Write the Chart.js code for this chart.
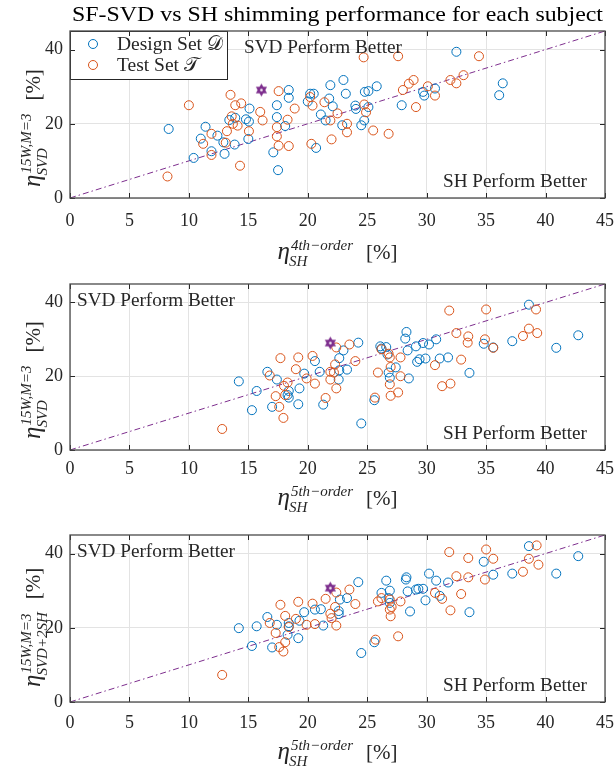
<!DOCTYPE html>
<html>
<head>
<meta charset="utf-8">
<script src="https://cdn.jsdelivr.net/npm/chart.js@4/dist/chart.umd.min.js"></script>
<style>
  body { margin: 0; background: #fff; width: 616px; height: 770px; position: relative; overflow: hidden; }
  canvas { position: absolute; left: 0; }
</style>
</head>
<body>
<canvas id="plot-4th" width="616" height="275" style="top:0"></canvas>
<canvas id="plot-5th" width="616" height="270" style="top:255px"></canvas>
<canvas id="plot-5th-2sh" width="616" height="260" style="top:510px"></canvas>
<script>
const SERIF = '"Liberation Serif", "Times New Roman", serif';
const BLUE = "#0072BD";
const ORANGE = "#D95319";
const PURPLE = "#7E2F8E";
const INK = "#262626";

// ===== DATA =====
const title = "SF-SVD vs SH shimming performance for each subject";
const legend_labels = ["Design Set \u{1D49F}", "Test Set \u{1D4AF}"];
const x_ticks = [0, 5, 10, 15, 20, 25, 30, 35, 40, 45];
const y_ticks = [0, 20, 40];
const diagonal = [[0, 0], [45, 45]];

// SVD (15W, M=3) vs 4th-order SH
const design_4th = [
  [8.3,18.6],[11.4,19.2],[11.0,16.0],[12.4,16.8],[10.4,10.8],[11.9,12.6],[13.0,11.9],[12.9,15.0],
  [13.4,21.0],[13.9,21.6],[13.85,14.4],[14.8,21.2],[15.05,20.6],[15.0,15.9],[15.1,24.1],[17.1,12.3],
  [17.4,25.0],[17.4,21.8],[17.5,7.5],[18.1,19.4],[18.4,29.1],[18.4,27.0],[20.0,26.0],[20.2,28.1],
  [20.5,28.1],[21.1,22.5],[20.7,13.5],[21.9,30.4],[21.8,26.8],[22.1,24.7],[21.5,20.9],[23.0,31.8],
  [23.2,28.1],[22.9,19.6],[24.0,24.9],[24.05,24.0],[24.5,19.6],[24.75,20.9],[24.8,28.6],[25.1,28.8],
  [25.1,24.5],[25.8,30.1],[27.9,25.0],[29.7,28.6],[29.8,27.6],[30.7,29.5],[32.5,39.4],[36.1,27.7],
  [36.4,30.9]
];
const test_4th = [
  [8.2,5.8],[10.0,25.0],[11.2,14.6],[11.9,17.3],[11.9,11.6],[13.2,18.0],[13.1,14.9],[13.5,27.8],
  [13.6,22.0],[13.7,20.0],[13.9,25.0],[14.1,19.5],[14.4,25.5],[14.3,8.7],[15.05,18.0],[16.0,23.2],
  [16.2,20.9],[17.4,19.1],[17.4,16.6],[17.55,28.8],[17.55,14.1],[18.3,21.1],[18.4,14.0],[18.9,24.1],
  [20.2,27.2],[20.4,24.9],[20.3,14.6],[21.4,25.8],[22.0,15.8],[21.9,20.9],[22.5,22.8],[23.3,20.0],
  [23.3,17.7],[24.7,37.9],[24.75,25.2],[24.9,23.1],[25.5,18.2],[26.8,17.3],[27.6,38.2],[28.0,29.1],
  [28.5,30.8],[28.9,31.8],[29.1,24.5],[30.1,30.1],[30.7,27.6],[32.0,31.8],[32.5,30.9],[33.1,33.1],
  [34.4,38.2]
];
const best_4th = [[16.1, 29.1]];

// SVD (15W, M=3) vs 5th-order SH
const design_5th = [
  [14.2,18.6],[15.7,16.0],[15.3,10.8],[16.6,21.2],[17.0,11.7],[17.4,19.1],[18.4,16.0],[18.3,14.9],
  [18.4,14.2],[19.3,16.7],[19.2,12.4],[19.7,20.7],[20.6,24.1],[21.0,21.2],[21.3,12.3],[22.65,24.9],
  [22.6,19.1],[23.0,27.0],[22.65,21.6],[23.3,21.8],[24.25,29.1],[24.5,7.2],[25.6,13.5],[26.1,28.1],
  [26.2,27.5],[26.6,27.9],[26.7,25.9],[26.8,21.0],[26.9,19.6],[27.4,22.4],[28.3,32.0],[28.2,30.2],
  [28.4,27.0],[28.5,19.4],[29.1,28.1],[29.2,23.9],[29.4,24.6],[29.7,29.0],[29.9,24.8],[30.2,28.6],
  [30.8,30.0],[31.1,24.8],[31.8,25.1],[33.6,20.9],[34.8,28.8],[35.6,27.8],[37.2,29.5],[38.6,39.4],
  [40.9,27.7],[42.75,31.1]
];
const test_5th = [
  [12.8,5.7],[17.7,24.9],[19.2,25.1],[16.8,20.2],[17.3,14.6],[17.6,11.7],[17.95,8.7],[18.0,17.4],
  [18.3,18.3],[18.1,14.9],[19.0,21.9],[19.9,19.4],[20.4,25.5],[20.6,18.0],[21.5,14.1],[21.9,21.2],
  [21.9,19.1],[22.3,23.2],[22.4,16.7],[22.4,27.8],[22.2,21.0],[23.5,28.6],[24.0,24.1],[25.9,21.0],
  [25.65,14.2],[26.2,27.3],[26.8,26.1],[26.9,25.1],[26.97,22.5],[26.9,17.8],[26.97,14.7],[27.6,15.6],
  [27.8,20.0],[27.8,25.1],[30.7,23.0],[31.3,17.3],[32.0,18.0],[31.9,37.8],[32.5,31.7],[32.9,24.5],
  [33.5,30.8],[33.45,29.1],[34.9,30.0],[35.0,38.1],[35.6,27.7],[38.1,30.9],[38.6,32.9],[39.3,31.7],
  [39.2,38.1]
];
const best_5th = [[21.9, 29.0]];

// SVD+2SH (15W, M=3) vs 5th-order SH
const design_2sh = [
  [14.2,19.9],[15.7,20.4],[15.3,15.1],[16.6,22.9],[17.0,14.7],[17.4,20.8],[18.4,20.4],[18.3,18.1],
  [18.4,21.3],[19.3,21.9],[19.2,17.2],[19.7,24.2],[20.6,24.9],[21.1,25.0],[21.3,20.6],[22.7,27.6],
  [23.3,28.0],[22.6,24.5],[22.6,23.7],[24.25,32.3],[24.5,13.2],[25.6,16.1],[26.2,29.4],[26.6,32.7],
  [26.9,30.0],[26.8,28.0],[26.9,26.7],[28.3,33.6],[28.25,33.0],[28.4,29.8],[28.6,24.4],[29.1,30.3],
  [29.3,30.5],[29.7,30.5],[29.9,27.4],[30.2,34.6],[30.8,32.7],[31.1,28.6],[31.8,32.2],[33.6,24.2],
  [34.8,37.8],[35.6,34.3],[37.2,34.6],[38.6,42.0],[40.9,34.6],[42.75,39.3]
];
const test_2sh = [
  [12.8,7.3],[17.7,26.2],[19.2,27.0],[16.8,21.3],[17.3,18.6],[17.6,14.8],[17.95,13.6],[18.1,16.1],
  [18.1,23.2],[18.4,20.2],[19.0,22.4],[19.9,20.8],[20.4,26.5],[20.6,21.0],[21.5,27.8],[21.9,23.8],
  [22.0,22.6],[22.3,25.6],[22.4,20.6],[22.4,29.5],[23.5,30.3],[24.0,26.4],[25.9,27.1],[25.7,16.8],
  [26.2,28.0],[26.9,27.6],[27.05,25.6],[26.9,24.9],[26.97,23.1],[27.6,17.7],[27.8,27.1],[30.7,29.4],
  [31.3,27.8],[32.0,24.7],[31.9,40.4],[32.5,33.9],[32.9,29.1],[33.5,38.8],[33.5,33.6],[35.0,41.1],
  [34.9,33.0],[35.6,38.6],[38.1,35.1],[38.6,38.6],[39.4,37.0],[39.25,42.2]
];
const best_2sh = [[21.9, 30.7]];

// ===== HELPERS =====
const pts = arr => arr.map(([x, y]) => ({ x, y }));

// Filled six-pointed star (MATLAB 'hexagram') with a small hole in the middle
function hexagram(r, colour) {
  const c = document.createElement("canvas");
  const s = Math.ceil(2 * r + 2);
  c.width = c.height = s;
  const g = c.getContext("2d");
  g.fillStyle = colour;
  [-Math.PI / 2, Math.PI / 2].forEach(a0 => {
    g.beginPath();
    for (let k = 0; k < 3; k++) {
      const a = a0 + k * 2 * Math.PI / 3;
      g.lineTo(s / 2 + r * Math.cos(a), s / 2 + r * Math.sin(a));
    }
    g.closePath();
    g.fill();
  });
  g.fillStyle = "#fff";
  g.beginPath();
  g.arc(s / 2, s / 2, r * 0.2, 0, 2 * Math.PI);
  g.fill();
  return c;
}
const star_marker = hexagram(6.5, PURPLE);

// text stretched to a target width (LaTeX fonts are wider than Times)
function fitText(ctx, text, x, y, w, font) {
  ctx.font = font;
  const s = w / ctx.measureText(text).width;
  ctx.save();
  ctx.translate(x, y);
  ctx.scale(s, 1);
  ctx.textAlign = "left";
  ctx.fillText(text, 0, 0);
  ctx.restore();
}

// eta with super- and subscript followed by [%], drawn from (0, 0) along +x
function mathLabel(ctx, sup, sub) {
  ctx.textBaseline = "alphabetic";
  ctx.textAlign = "left";
  ctx.font = "italic 25px " + SERIF;
  const w_eta = ctx.measureText("\u03B7").width;
  ctx.fillText("\u03B7", 0, 0);
  ctx.font = "italic 15px " + SERIF;
  const w_sup = ctx.measureText(sup).width;
  const w_sub = ctx.measureText(sub).width;
  ctx.fillText(sup, w_eta + 1, -9);
  ctx.fillText(sub, w_eta - 1, 7);
  ctx.font = "21px " + SERIF;
  ctx.fillText("[%]", w_eta + Math.max(w_sup + 1, w_sub - 1) + 13, 0);
}
function mathWidth(ctx, sup, sub) {
  ctx.font = "italic 25px " + SERIF;
  const w_eta = ctx.measureText("\u03B7").width;
  ctx.font = "italic 15px " + SERIF;
  const w = Math.max(ctx.measureText(sup).width + 1, ctx.measureText(sub).width - 1);
  ctx.font = "21px " + SERIF;
  return w_eta + w + 13 + ctx.measureText("[%]").width;
}

// ===== CHARTS =====
function createPlot(cfg) {
  const decor = {
    id: "decor",
    afterDraw(chart) {
      const ctx = chart.ctx;
      const a = chart.chartArea;
      const xs = chart.scales.x;
      const ys = chart.scales.y;
      ctx.save();
      ctx.fillStyle = INK;
      ctx.textBaseline = "alphabetic";

      // region annotations
      fitText(ctx, "SVD Perform Better", a.left + cfg.svd_dx, a.top + 22, 158, "19px " + SERIF);
      fitText(ctx, "SH Perform Better", a.right - 162, a.bottom - 11, 144, "19px " + SERIF);

      // legend (first panel only)
      if (cfg.legend) {
        ctx.fillStyle = "#fff";
        ctx.fillRect(a.left, a.top, 157, 48);
        ctx.strokeStyle = INK;
        ctx.lineWidth = 1;
        ctx.strokeRect(a.left + 0.5, a.top + 0.5, 157, 48);
        [BLUE, ORANGE].forEach((col, i) => {
          const yy = a.top + 13 + i * 21;
          ctx.strokeStyle = col;
          ctx.beginPath();
          ctx.arc(a.left + 23, yy, 4.5, 0, 2 * Math.PI);
          ctx.stroke();
          ctx.fillStyle = INK;
          ctx.font = "19.5px " + SERIF;
          ctx.textAlign = "left";
          ctx.fillText(legend_labels[i], a.left + 47, yy + 6);
        });
      }

      // box and inward ticks
      ctx.strokeStyle = INK;
      ctx.lineWidth = 1;
      ctx.beginPath();
      x_ticks.forEach(v => {
        const p = Math.round(xs.getPixelForValue(v)) + 0.5;
        ctx.moveTo(p, a.bottom); ctx.lineTo(p, a.bottom - 5);
        ctx.moveTo(p, a.top); ctx.lineTo(p, a.top + 5);
      });
      y_ticks.forEach(v => {
        const p = Math.round(ys.getPixelForValue(v)) + 0.5;
        ctx.moveTo(a.left, p); ctx.lineTo(a.left + 5, p);
        ctx.moveTo(a.right, p); ctx.lineTo(a.right - 5, p);
      });
      ctx.stroke();
      ctx.strokeStyle = "#4a4a4a";
      ctx.lineWidth = 1.3;
      ctx.strokeRect(a.left, a.top, a.right - a.left, a.bottom - a.top);

      // axis labels
      ctx.fillStyle = INK;
      const xw = mathWidth(ctx, cfg.x_sup, "SH");
      ctx.save();
      ctx.translate((a.left + a.right) / 2 - xw / 2, a.bottom + cfg.xlab_dy);
      mathLabel(ctx, cfg.x_sup, "SH");
      ctx.restore();

      ctx.save();
      ctx.translate(40, a.bottom + cfg.ylab_dy);
      ctx.rotate(-Math.PI / 2);
      mathLabel(ctx, "15W,M=3", cfg.y_sub);
      ctx.restore();

      if (cfg.title) {
        ctx.fillStyle = "#000";
        fitText(ctx, title, 72, 21, 531, "21px " + SERIF);
      }
      ctx.restore();
    }
  };

  return new Chart(document.getElementById(cfg.canvas_id), {
    type: "scatter",
    data: {
      datasets: [
        {
          label: "diagonal",
          type: "line",
          data: pts(diagonal),
          borderColor: PURPLE,
          borderWidth: 1,
          borderDash: [6, 3, 1.5, 3],
          pointRadius: 0,
          order: 4
        },
        {
          label: "Design Set",
          data: pts(cfg.design),
          pointStyle: "circle",
          pointRadius: 4.5,
          borderWidth: 1,
          borderColor: BLUE,
          backgroundColor: "rgba(0,0,0,0)",
          order: 3
        },
        {
          label: "Test Set",
          data: pts(cfg.test),
          pointStyle: "circle",
          pointRadius: 4.5,
          borderWidth: 1,
          borderColor: ORANGE,
          backgroundColor: "rgba(0,0,0,0)",
          order: 2
        },
        {
          label: "best",
          data: pts(cfg.best),
          pointStyle: star_marker,
          pointRadius: 7,
          order: 1
        }
      ]
    },
    options: {
      responsive: false,
      animation: false,
      layout: { padding: { top: cfg.pad_top, right: 11, left: 0, bottom: 0 } },
      scales: {
        x: {
          type: "linear",
          min: 0,
          max: 45,
          afterBuildTicks: s => { s.ticks = x_ticks.map(v => ({ value: v })); },
          afterFit: s => { s.height = cfg.axis_h; s.paddingLeft = 0; s.paddingRight = 0; },
          ticks: { color: INK, font: { family: SERIF, size: 18 }, padding: cfg.tick_pad, maxRotation: 0 },
          grid: { color: "#e3e3e3", drawTicks: false },
          border: { display: false }
        },
        y: {
          type: "linear",
          min: 0,
          max: 45,
          afterBuildTicks: s => { s.ticks = y_ticks.map(v => ({ value: v })); },
          afterFit: s => { s.width = 70; s.paddingTop = 0; s.paddingBottom = 0; },
          ticks: { color: INK, font: { family: SERIF, size: 18 }, padding: 7 },
          grid: { color: "#e3e3e3", drawTicks: false },
          border: { display: false }
        }
      },
      plugins: { legend: { display: false }, tooltip: { enabled: false } }
    },
    plugins: [decor]
  });
}

createPlot({
  canvas_id: "plot-4th", design: design_4th, test: test_4th, best: best_4th,
  pad_top: 31, axis_h: 77, tick_pad: 12, xlab_dy: 61, ylab_dy: -11,
  x_sup: "4th\u2212order", y_sub: "SVD", svd_dx: 174, legend: true, title: true
});
createPlot({
  canvas_id: "plot-5th", design: design_5th, test: test_5th, best: best_5th,
  pad_top: 29, axis_h: 75, tick_pad: 8, xlab_dy: 55, ylab_dy: -11,
  x_sup: "5th\u2212order", y_sub: "SVD", svd_dx: 7
});
createPlot({
  canvas_id: "plot-5th-2sh", design: design_2sh, test: test_2sh, best: best_2sh,
  pad_top: 25, axis_h: 68, tick_pad: 10, xlab_dy: 57, ylab_dy: -15,
  x_sup: "5th\u2212order", y_sub: "SVD+2SH", svd_dx: 7
});
</script>
</body>
</html>
